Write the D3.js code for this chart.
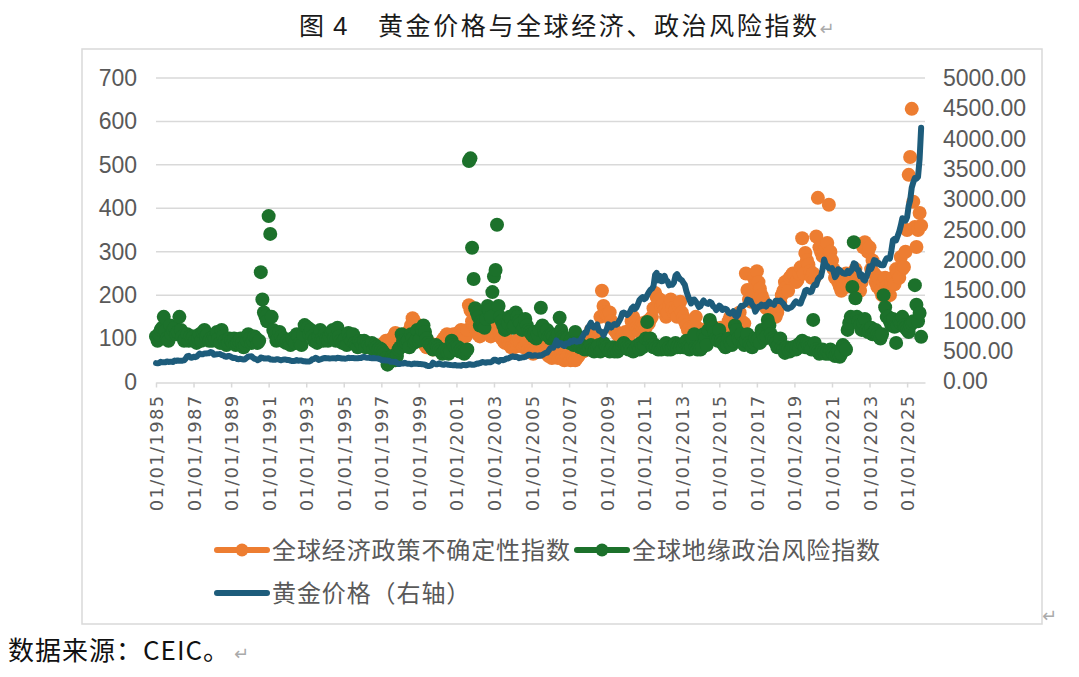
<!DOCTYPE html>
<html>
<head>
<meta charset="utf-8">
<script src="https://cdn.jsdelivr.net/npm/d3@7"></script>
<style>
  html, body { margin: 0; padding: 0; background: #fff; }
  svg { display: block; }
</style>
</head>
<body>
<div id="chart"></div>
<script>
// monthly series, first month Jan 1985 (GEPU starts Jan 1997)
const startYear = 1985;
const gepuStartYear = 1997;

const gold = [
  303,299,304,325,317,317,317,330,323,325,325,322, // 1985
  345,339,346,340,342,343,348,376,418,423,396,391, // 1986
  408,401,409,438,460,450,450,461,460,465,467,486, // 1987
  477,442,444,450,451,452,437,431,413,406,420,419, // 1988
  404,388,390,384,371,368,375,366,362,367,393,410, // 1989
  410,416,393,374,369,352,362,395,389,380,381,378, // 1990
  383,364,363,358,357,367,368,356,349,359,361,361, // 1991
  354,354,344,338,337,341,353,343,345,344,335,334, // 1992
  329,330,331,342,367,371,392,379,355,364,373,383, // 1993
  387,382,384,377,381,385,385,380,391,389,384,379, // 1994
  378,376,382,391,385,387,386,383,383,383,386,387, // 1995
  400,405,396,393,392,385,383,387,383,381,378,369, // 1996
  355,347,352,344,344,341,324,324,323,325,306,289, // 1997
  289,297,296,308,299,292,293,284,289,296,294,291, // 1998
  287,287,286,282,277,261,256,257,265,311,293,284, // 1999
  284,300,286,280,275,286,282,274,273,270,266,272, // 2000
  265,262,263,261,272,270,268,273,283,283,276,275, // 2001
  282,296,294,302,314,321,313,310,319,317,319,333, // 2002
  357,359,341,328,355,356,351,359,379,379,390,407, // 2003
  414,405,406,404,384,392,398,400,405,420,439,442, // 2004
  424,423,434,429,422,431,424,438,456,470,476,510, // 2005
  549,555,557,610,676,596,633,632,598,586,628,629, // 2006
  631,665,655,680,668,655,665,665,712,754,806,803, // 2007
  889,923,968,909,888,890,939,839,829,806,760,816, // 2008
  858,943,924,890,928,946,934,949,996,1043,1127,1135, // 2009
  1118,1095,1113,1148,1205,1232,1193,1215,1271,1343,1370,1391, // 2010
  1356,1372,1424,1473,1510,1529,1572,1756,1790,1666,1739,1652, // 2011
  1656,1742,1673,1650,1585,1596,1594,1630,1744,1770,1721,1684, // 2012
  1671,1627,1593,1487,1414,1343,1286,1347,1349,1316,1275,1225, // 2013
  1244,1300,1336,1299,1287,1279,1311,1296,1239,1222,1176,1200, // 2014
  1251,1227,1178,1198,1199,1181,1131,1117,1125,1157,1086,1068, // 2015
  1097,1200,1246,1242,1260,1276,1350,1340,1326,1267,1236,1152, // 2016
  1192,1234,1231,1266,1246,1260,1236,1283,1315,1280,1283,1265, // 2017
  1331,1331,1325,1335,1304,1281,1238,1202,1198,1215,1221,1250, // 2018
  1291,1320,1300,1285,1283,1359,1413,1500,1510,1495,1471,1480, // 2019
  1560,1597,1592,1683,1716,1732,1847,2010,1921,1900,1866,1858, // 2020
  1867,1808,1718,1760,1850,1834,1807,1785,1776,1777,1821,1790, // 2021
  1817,1856,1948,1937,1849,1836,1733,1764,1681,1664,1726,1797, // 2022
  1898,1854,1912,1999,1992,1942,1951,1918,1916,1916,1985,2031, // 2023
  2033,2024,2159,2331,2351,2326,2398,2472,2572,2690,2651,2648, // 2024
  2709,2895,2984,3194,3279,3352,3340,3368,3665,4180            // 2025
];

const gpr = [
  105,95,110,120,125,150,118,100,95,130,110,120,   // 1985
  125,110,115,150,120,105,95,100,110,95,105,100,   // 1986
  105,95,90,100,110,95,115,120,105,110,95,100,     // 1987
  95,105,100,115,100,90,120,105,95,85,90,100,      // 1988
  95,90,100,85,90,95,100,90,80,85,95,110,          // 1989
  100,90,95,105,100,90,95,253,190,160,150,140,     // 1990
  382,341,150,120,110,95,100,115,105,95,100,90,    // 1991
  95,90,85,100,95,90,110,105,90,85,110,131,        // 1992
  127,125,110,120,105,95,100,90,105,120,100,95,    // 1993
  110,100,95,105,115,120,100,95,125,105,95,90,     // 1994
  95,100,85,113,100,95,110,90,85,80,95,90,         // 1995
  85,95,80,90,85,80,90,75,85,80,75,78,             // 1996
  75,70,65,55,40,45,50,60,55,50,60,75,             // 1997
  80,110,95,85,90,95,80,110,100,90,95,120,         // 1998
  95,100,120,130,115,100,90,85,80,75,80,85,        // 1999
  80,75,70,65,70,75,70,65,70,95,85,80,             // 2000
  75,80,70,75,70,65,70,75,509,515,309,237,         // 2001
  170,160,150,130,140,135,125,145,175,165,150,207, // 2002
  243,258,362,175,150,140,130,120,125,135,150,145, // 2003
  125,130,160,150,140,135,120,125,145,130,120,115, // 2004
  110,105,115,100,110,120,171,130,115,110,120,105, // 2005
  100,110,105,95,100,110,148,120,105,100,95,100,   // 2006
  90,95,100,85,115,90,85,80,85,80,75,80,           // 2007
  75,80,85,75,70,75,80,85,70,75,90,85,             // 2008
  80,75,70,75,80,70,75,70,75,80,85,90,             // 2009
  85,80,75,80,75,70,75,80,85,75,90,80,             // 2010
  85,100,138,95,100,85,80,85,80,75,80,75,          // 2011
  80,85,90,75,80,75,80,85,90,80,85,80,             // 2012
  85,80,90,95,80,75,80,100,110,80,75,80,           // 2013
  75,80,110,100,85,120,143,130,125,115,100,95,     // 2014
  120,95,90,85,80,85,100,90,85,95,130,120,         // 2015
  100,95,110,90,85,95,110,90,85,80,90,100,         // 2016
  95,100,90,120,110,100,105,143,130,110,100,95,    // 2017
  90,80,85,100,80,75,67,80,75,70,75,80,            // 2018
  80,75,85,80,90,95,85,80,90,85,80,75,             // 2019
  143,90,75,70,65,70,75,70,65,70,65,75,            // 2020
  70,65,60,65,70,58,65,85,80,75,120,136,           // 2021
  150,219,322,193,150,140,130,120,135,145,120,115, // 2022
  120,125,110,115,120,110,105,100,110,200,172,150, // 2023
  150,140,130,145,127,90,130,140,135,150,130,125,  // 2024
  120,115,130,135,140,223,178,140,159,104          // 2025
];

const gepu = [
  85,80,90,95,90,85,95,100,105,113,110,100,        // 1997
  95,90,100,105,110,115,110,130,147,140,120,110,   // 1998
  100,110,95,90,85,80,85,90,80,75,80,85,           // 1999
  80,85,90,95,100,105,110,100,95,105,110,100,      // 2000
  110,105,115,120,110,115,105,120,177,165,140,130, // 2001
  125,115,110,105,120,130,140,125,130,110,105,115, // 2002
  130,140,155,120,105,100,95,90,100,95,85,80,      // 2003
  85,80,90,95,100,90,85,80,85,90,75,70,            // 2004
  70,65,70,75,80,70,85,75,80,70,65,60,             // 2005
  60,55,60,65,70,55,60,65,55,50,55,60,             // 2006
  55,50,60,55,50,55,60,80,75,70,85,90,             // 2007
  100,110,120,105,95,100,110,105,150,210,175,160,  // 2008
  155,150,160,140,130,120,115,110,105,100,105,110, // 2009
  115,110,105,120,140,150,130,125,120,115,130,135, // 2010
  130,125,140,135,145,150,170,205,196,185,190,175, // 2011
  180,165,150,160,175,190,170,160,165,150,175,185, // 2012
  160,150,140,130,120,125,115,120,130,150,125,110, // 2013
  110,115,120,115,105,110,115,120,115,125,110,115, // 2014
  120,125,115,110,120,125,140,150,145,130,120,135, // 2015
  155,160,140,130,135,250,212,190,185,200,240,225, // 2016
  255,230,215,200,190,180,170,175,165,155,160,150, // 2017
  150,160,175,185,200,210,230,220,210,240,245,250, // 2018
  245,230,235,250,264,331,250,297,280,270,255,240, // 2019
  250,240,335,424,310,300,290,300,311,320,408,300, // 2020
  280,260,240,250,230,220,210,230,240,250,220,230, // 2021
  240,230,250,260,240,220,210,230,310,322,315,300, // 2022
  310,260,280,250,230,220,240,210,200,230,240,220, // 2023
  210,200,230,240,225,260,250,240,288,260,265,300, // 2024
  350,477,518,629,415,357,311,350,389,360          // 2025
];

const leftTicks = [0, 100, 200, 300, 400, 500, 600, 700];
const rightTicks = [0, 500, 1000, 1500, 2000, 2500, 3000, 3500, 4000, 4500, 5000];
const tickYears = [1985, 1987, 1989, 1991, 1993, 1995, 1997, 1999, 2001, 2003, 2005,
  2007, 2009, 2011, 2013, 2015, 2017, 2019, 2021, 2023, 2025];

const titleFig = '图';
const titleNum = '4';
const titleText = '黄金价格与全球经济、政治风险指数';
const seriesNames = ['全球经济政策不确定性指数', '全球地缘政治风险指数', '黄金价格（右轴）'];
const sourceText = '数据来源：CEIC。';

document.addEventListener('DOMContentLoaded', function() {
  const W = 1079, H = 677;
  const orange = '#ED7D31', green = '#1C712B', blue = '#1D5C7B';
  const grid = '#D9D9D9', labelColor = '#595959';
  const cjk = '"Noto Sans CJK SC", "Noto Sans", sans-serif';

  const svg = d3.select('#chart').append('svg')
    .attr('width', W)
    .attr('height', H);

  svg.append('rect').attr('width', W).attr('height', H).attr('fill', '#fff');

  // title
  const title = svg.append('text')
    .attr('y', 35)
    .style('font-family', cjk)
    .style('font-size', '25px')
    .style('font-weight', 400)
    .attr('fill', '#1a1a1a');
  title.append('tspan').attr('x', 299).text(titleFig);
  title.append('tspan').attr('x', 333).style('font-family', '"Liberation Sans", sans-serif')
    .style('font-size', '26px').text(titleNum);
  title.append('tspan').attr('x', 378).style('letter-spacing', '2.6px').text(titleText);
  title.append('tspan').attr('dx', 0).attr('fill', '#aaa')
    .style('font-family', '"DejaVu Sans"').style('font-size', '18px').text('↵');

  // chart frame
  svg.append('rect')
    .attr('x', 82).attr('y', 49)
    .attr('width', 960).attr('height', 575)
    .attr('fill', 'none')
    .attr('stroke', grid)
    .attr('stroke-width', 1.5);

  const dates = gold.map((_, i) => new Date(startYear, i, 1));
  const gepuOffset = (gepuStartYear - startYear) * 12;

  const x = d3.scaleTime()
    .domain([new Date(1985, 0, 1), new Date(2025, 11, 15)])
    .range([156, 925]);
  const yLeft = d3.scaleLinear().domain([0, 700]).range([382, 78]);
  const yRight = d3.scaleLinear().domain([0, 5000]).range([381.5, 78]);

  // gridlines
  svg.append('g')
    .selectAll('line')
    .data(leftTicks.slice(1))
    .enter()
    .append('line')
    .attr('x1', 156).attr('x2', 925)
    .attr('y1', d => yLeft(d)).attr('y2', d => yLeft(d))
    .attr('stroke', grid)
    .attr('stroke-width', 1.5);

  // left axis
  const leftAxis = svg.append('g')
    .attr('transform', 'translate(156,0)')
    .call(d3.axisLeft(yLeft).tickValues(leftTicks).tickSize(0).tickPadding(19));
  leftAxis.select('.domain').remove();
  leftAxis.selectAll('text')
    .style('font-family', '"Liberation Sans", Arial, sans-serif')
    .style('font-size', '23px')
    .attr('fill', labelColor);

  // right axis
  const rightAxis = svg.append('g')
    .attr('transform', 'translate(925,0)')
    .call(d3.axisRight(yRight).tickValues(rightTicks).tickSize(0).tickPadding(18)
      .tickFormat(d3.format('.2f')));
  rightAxis.select('.domain').remove();
  rightAxis.selectAll('text')
    .style('font-family', '"Liberation Sans", Arial, sans-serif')
    .style('font-size', '23px')
    .attr('fill', labelColor);

  // bottom axis
  const bottomAxis = svg.append('g')
    .attr('transform', 'translate(0,382.5)')
    .call(d3.axisBottom(x)
      .tickValues(tickYears.map(yr => new Date(yr, 0, 1)))
      .tickFormat(d3.timeFormat('%d/%m/%Y'))
      .tickSize(5)
      .tickSizeOuter(0));
  bottomAxis.select('.domain').attr('stroke', grid).attr('stroke-width', 1.5);
  bottomAxis.selectAll('.tick line').attr('stroke', grid).attr('stroke-width', 1.5);
  bottomAxis.selectAll('text')
    .attr('transform', 'rotate(-90)')
    .attr('x', -12)
    .attr('y', 0)
    .attr('dy', '0.36em')
    .attr('text-anchor', 'end')
    .style('font-family', '"DejaVu Sans", sans-serif')
    .style('font-size', '18px')
    .style('letter-spacing', '1.3px')
    .attr('fill', labelColor);

  // GEPU markers
  svg.append('g')
    .selectAll('circle')
    .data(gepu)
    .enter()
    .append('circle')
    .attr('cx', (d, i) => x(dates[gepuOffset + i]))
    .attr('cy', d => yLeft(d))
    .attr('r', 7)
    .attr('fill', orange);

  // GPR markers
  svg.append('g')
    .selectAll('circle')
    .data(gpr)
    .enter()
    .append('circle')
    .attr('cx', (d, i) => x(dates[i]))
    .attr('cy', d => yLeft(d))
    .attr('r', 7)
    .attr('fill', green);

  // gold price line (right axis)
  const goldLine = d3.line()
    .x((d, i) => x(dates[i]))
    .y(d => yRight(d));
  svg.append('path')
    .datum(gold)
    .attr('d', goldLine)
    .attr('fill', 'none')
    .attr('stroke', blue)
    .attr('stroke-width', 6)
    .attr('stroke-linejoin', 'round')
    .attr('stroke-linecap', 'round');

  // legend
  const legendItems = [
    { name: seriesNames[0], color: orange, marker: true, x: 215, y: 550 },
    { name: seriesNames[1], color: green, marker: true, x: 575, y: 550 },
    { name: seriesNames[2], color: blue, marker: false, x: 215, y: 593 }
  ];
  const legend = svg.append('g');
  legendItems.forEach(item => {
    const g = legend.append('g').attr('transform', `translate(${item.x},${item.y})`);
    g.append('line')
      .attr('x1', 2).attr('x2', 52)
      .attr('stroke', item.color)
      .attr('stroke-width', 6)
      .attr('stroke-linecap', 'round');
    if (item.marker) {
      g.append('circle').attr('cx', 27).attr('r', 6.5).attr('fill', item.color);
    }
    g.append('text')
      .attr('x', 57)
      .attr('dy', '0.36em')
      .style('font-family', cjk)
      .style('font-size', '24px')
      .style('letter-spacing', '0.9px')
      .attr('fill', labelColor)
      .text(item.name);
  });

  // paragraph mark at the frame corner
  svg.append('text')
    .attr('x', 1042).attr('y', 622)
    .style('font-family', '"DejaVu Sans"').style('font-size', '18px')
    .attr('fill', '#aaa')
    .text('↵');

  // source note
  const source = svg.append('text')
    .attr('x', 8).attr('y', 660)
    .style('font-family', cjk)
    .style('font-size', '26px')
    .style('letter-spacing', '1px')
    .attr('fill', '#111');
  source.append('tspan').text(sourceText);
  source.append('tspan').attr('dx', 4).attr('fill', '#aaa')
    .style('font-family', '"DejaVu Sans"').style('font-size', '18px').text('↵');
});
</script>
</body>
</html>
